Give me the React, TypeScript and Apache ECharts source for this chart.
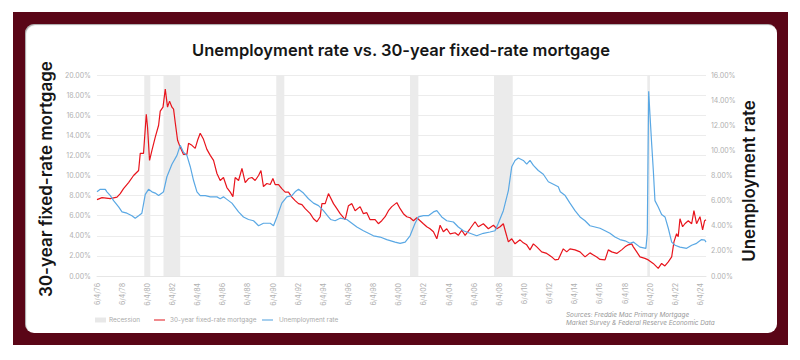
import React, { useEffect, useRef } from "react";
import * as echarts from "echarts";

// x values are decimal years; the axis starts at 6/4/76
const START_YEAR = 1976.42;
const END_YEAR = 2024.86;

const tickLabels = [
  "6/4/76", "6/4/78", "6/4/80", "6/4/82", "6/4/84", "6/4/86", "6/4/88", "6/4/90", "6/4/92",
  "6/4/94", "6/4/96", "6/4/98", "6/4/00", "6/4/02", "6/4/04", "6/4/06", "6/4/08", "6/4/10",
  "6/4/12", "6/4/14", "6/4/16", "6/4/18", "6/4/20", "6/4/22", "6/4/24",
];

const recessions: [number, number][] = [
  [1980.18, 1980.66],
  [1981.71, 1983.04],
  [1990.68, 1991.32],
  [2001.32, 2001.98],
  [2008.0, 2009.49],
  [2020.19, 2020.4],
];

// [year, %] — left axis
const mortgageRate: [number, number][] = [
  [1976.42, 7.6], [1976.82, 7.8], [1977.48, 7.7], [1978.01, 7.85], [1978.27, 8.2], [1978.53, 8.7],
  [1978.93, 9.3], [1979.33, 10.0], [1979.73, 10.5], [1979.86, 12.2], [1980.12, 12.2], [1980.34, 16.1],
  [1980.44, 14.8], [1980.6, 11.5], [1980.79, 12.5], [1981.05, 13.8], [1981.32, 15.0], [1981.45, 16.4],
  [1981.67, 16.8], [1981.85, 18.6], [1982.03, 16.8], [1982.19, 17.4], [1982.38, 16.8], [1982.51, 16.6],
  [1982.64, 15.3], [1982.83, 13.5], [1983.04, 12.8], [1983.3, 12.1], [1983.57, 12.1], [1983.7, 13.2],
  [1983.97, 13.0], [1984.23, 12.7], [1984.42, 13.5], [1984.63, 14.2], [1984.89, 13.6], [1985.16, 12.6],
  [1985.43, 12.0], [1985.69, 11.5], [1985.96, 10.2], [1986.22, 9.5], [1986.48, 9.8], [1986.75, 8.8],
  [1987.02, 8.35], [1987.23, 7.9], [1987.41, 9.8], [1987.68, 9.5], [1987.95, 10.7], [1988.21, 9.3],
  [1988.47, 9.7], [1988.74, 9.8], [1989.0, 9.5], [1989.27, 10.0], [1989.46, 10.5], [1989.66, 8.9],
  [1989.93, 9.2], [1990.2, 9.1], [1990.41, 9.7], [1990.59, 9.1], [1990.86, 9.1], [1991.12, 8.7],
  [1991.39, 8.35], [1991.65, 8.35], [1991.92, 7.85], [1992.18, 7.5], [1992.45, 7.2], [1992.72, 7.1],
  [1992.98, 6.7], [1993.38, 6.2], [1993.64, 5.7], [1993.91, 5.4], [1994.17, 5.9], [1994.31, 7.2],
  [1994.57, 7.2], [1994.83, 8.2], [1995.23, 7.2], [1995.5, 6.7], [1995.76, 6.2], [1996.16, 5.6],
  [1996.42, 7.0], [1996.69, 7.2], [1996.95, 6.5], [1997.35, 6.9], [1997.61, 6.2], [1997.88, 6.3],
  [1998.14, 5.6], [1998.54, 5.6], [1998.8, 5.2], [1999.07, 5.5], [1999.34, 5.9], [1999.6, 6.5],
  [1999.87, 6.9], [2000.27, 7.3], [2000.53, 6.7], [2000.79, 6.2], [2001.06, 5.9], [2001.32, 5.8],
  [2001.59, 5.5], [2001.86, 5.8], [2002.12, 5.5], [2002.38, 5.2], [2002.65, 4.9], [2002.91, 4.7],
  [2003.18, 4.4], [2003.45, 3.7], [2003.71, 5.05], [2003.97, 4.4], [2004.24, 4.7], [2004.5, 4.2],
  [2004.9, 4.3], [2005.16, 4.05], [2005.43, 4.55], [2005.7, 4.05], [2006.09, 4.7], [2006.49, 5.4],
  [2006.75, 4.9], [2007.15, 5.2], [2007.55, 4.7], [2007.95, 5.05], [2008.22, 4.7], [2008.48, 4.9],
  [2008.74, 5.2], [2008.88, 4.55], [2009.14, 3.4], [2009.41, 3.7], [2009.67, 3.2], [2010.07, 3.6],
  [2010.33, 3.3], [2010.6, 3.1], [2010.86, 2.6], [2011.13, 3.2], [2011.4, 2.9], [2011.79, 2.4],
  [2012.19, 2.25], [2012.59, 1.9], [2012.85, 1.6], [2013.11, 1.65], [2013.51, 2.7], [2013.78, 2.4],
  [2014.04, 2.7], [2014.44, 2.6], [2014.84, 2.4], [2015.24, 1.9], [2015.63, 2.3], [2015.9, 2.1],
  [2016.17, 1.9], [2016.43, 1.65], [2016.83, 1.6], [2017.09, 2.6], [2017.36, 2.4], [2017.76, 2.25],
  [2018.15, 2.6], [2018.42, 2.9], [2018.68, 3.1], [2018.95, 3.2], [2019.08, 2.9], [2019.35, 2.4],
  [2019.61, 1.9], [2020.0, 1.75], [2020.27, 1.6], [2020.66, 1.25], [2021.06, 0.76], [2021.33, 1.25],
  [2021.59, 1.0], [2021.86, 1.4], [2022.13, 1.9], [2022.31, 3.4], [2022.52, 4.2], [2022.65, 3.9],
  [2022.79, 5.7], [2023.0, 4.9], [2023.18, 5.2], [2023.45, 5.5], [2023.72, 5.2], [2023.9, 6.5],
  [2024.11, 5.2], [2024.38, 5.9], [2024.59, 4.6], [2024.75, 5.5], [2024.86, 5.6],
];

// [year, %] — right axis
const unemploymentRate: [number, number][] = [
  [1976.42, 6.7], [1976.68, 6.9], [1977.08, 6.9], [1977.21, 6.7], [1977.48, 6.4], [1977.74, 6.0],
  [1978.14, 5.5], [1978.41, 5.1], [1978.8, 5.0], [1979.2, 4.8], [1979.46, 4.6], [1979.73, 4.8],
  [1979.99, 5.0], [1980.26, 6.5], [1980.52, 6.9], [1980.79, 6.7], [1981.05, 6.6], [1981.32, 6.4],
  [1981.59, 6.6], [1981.71, 6.7], [1981.98, 7.9], [1982.38, 8.9], [1982.78, 9.6], [1983.04, 10.4],
  [1983.3, 9.85], [1983.57, 9.6], [1983.84, 8.7], [1984.1, 7.6], [1984.37, 6.7], [1984.63, 6.4],
  [1985.03, 6.4], [1985.43, 6.3], [1985.96, 6.3], [1986.22, 6.15], [1986.48, 6.3], [1986.75, 6.1],
  [1987.15, 5.8], [1987.68, 5.1], [1988.07, 4.7], [1988.47, 4.5], [1988.87, 4.4], [1989.27, 4.0],
  [1989.66, 4.2], [1990.2, 4.2], [1990.46, 4.0], [1990.73, 4.7], [1991.12, 5.8], [1991.52, 6.3],
  [1991.92, 6.4], [1992.18, 6.7], [1992.45, 6.9], [1992.84, 6.6], [1993.24, 6.15], [1993.64, 5.8],
  [1994.04, 5.6], [1994.43, 5.2], [1994.83, 4.7], [1995.0, 4.5], [1995.36, 4.4], [1995.76, 4.6],
  [1996.29, 4.5], [1996.69, 4.2], [1997.09, 3.9], [1997.61, 3.6], [1998.41, 3.2], [1998.94, 3.1],
  [1999.47, 2.9], [2000.13, 2.7], [2000.53, 2.6], [2000.93, 2.7], [2001.32, 3.2], [2001.72, 4.2],
  [2001.98, 4.7], [2002.38, 4.8], [2002.78, 4.8], [2003.18, 5.1], [2003.45, 5.2], [2003.84, 4.7],
  [2004.24, 4.4], [2004.77, 4.3], [2005.16, 3.9], [2005.56, 3.6], [2006.09, 3.4], [2006.62, 3.2],
  [2007.15, 3.4], [2007.68, 3.5], [2008.08, 3.6], [2008.34, 4.2], [2008.74, 5.2], [2009.14, 6.8],
  [2009.41, 8.7], [2009.67, 9.2], [2009.93, 9.4], [2010.33, 9.2], [2010.6, 8.9], [2010.86, 9.2],
  [2011.13, 8.8], [2011.52, 8.4], [2011.92, 8.1], [2012.32, 7.5], [2012.72, 7.3], [2013.11, 7.1],
  [2013.27, 6.7], [2013.66, 6.4], [2014.04, 5.8], [2014.44, 5.2], [2014.84, 4.7], [2015.24, 4.4],
  [2015.63, 4.0], [2016.03, 3.9], [2016.43, 3.8], [2016.83, 3.6], [2017.22, 3.4], [2017.62, 3.1],
  [2018.02, 2.9], [2018.42, 2.8], [2018.81, 2.6], [2019.08, 2.7], [2019.61, 2.3], [2020.08, 2.2],
  [2020.19, 3.4], [2020.3, 14.7], [2020.4, 12.9], [2020.54, 10.5], [2020.67, 8.4], [2020.8, 6.0],
  [2021.06, 5.5], [2021.33, 4.9], [2021.6, 4.7], [2021.86, 3.8], [2022.13, 2.7], [2022.4, 2.45],
  [2022.79, 2.3], [2023.32, 2.2], [2023.72, 2.45], [2024.11, 2.6], [2024.51, 2.9], [2024.77, 2.85],
  [2024.86, 2.7],
];

const RED = "#e8141c";
const BLUE = "#5aa8e4";
const FONT = "Inter, 'Open Sans', sans-serif";

function toX(pts: [number, number][]) {
  return pts.map(([yr, v]) => [yr - START_YEAR, v]);
}

export default function App() {
  const ref = useRef<HTMLDivElement>(null);

  useEffect(() => {
    if (!ref.current) return;
    const chart = echarts.init(ref.current, undefined, { renderer: "svg" });
    const small = { fontSize: 6.4, fontFamily: FONT, fill: "#aaaaaa", verticalAlign: "middle" };
    chart.setOption({
      animation: false,
      backgroundColor: "transparent",
      grid: { left: 97, right: 94, top: 75, bottom: 84 },
      xAxis: {
        type: "value",
        min: 0,
        max: END_YEAR - START_YEAR,
        interval: 2,
        axisLine: { show: true, lineStyle: { color: "#e6e6e6" } },
        axisTick: { show: false },
        splitLine: { show: false },
        axisLabel: {
          rotate: 90,
          margin: 7,
          fontSize: 7,
          color: "#b0b0b0",
          fontFamily: FONT,
          formatter: (v: number) => {
            const i = Math.round(v / 2);
            if (Math.abs(v - i * 2) > 0.01) return "";
            return tickLabels[i] ?? "";
          },
        },
      },
      yAxis: [
        {
          type: "value",
          min: 0,
          max: 20,
          interval: 2,
          axisLine: { show: false },
          axisTick: { show: false },
          splitLine: { lineStyle: { color: "#ececec", width: 1 } },
          axisLabel: {
            margin: 6,
            fontSize: 7,
            color: "#b0b0b0",
            fontFamily: FONT,
            formatter: (v: number) => v.toFixed(2) + "%",
          },
        },
        {
          type: "value",
          min: 0,
          max: 16,
          interval: 2,
          axisLine: { show: false },
          axisTick: { show: false },
          splitLine: { show: false },
          axisLabel: {
            margin: 5,
            fontSize: 7,
            color: "#b0b0b0",
            fontFamily: FONT,
            formatter: (v: number) => v.toFixed(2) + "%",
          },
        },
      ],
      series: [
        {
          name: "Recession",
          type: "line",
          data: [],
          silent: true,
          markArea: {
            silent: true,
            itemStyle: { color: "#ebebeb" },
            data: recessions.map(([a, b]) => [
              { xAxis: a - START_YEAR },
              { xAxis: b - START_YEAR },
            ]),
          },
        },
        {
          name: "30-year fixed-rate mortgage",
          type: "line",
          yAxisIndex: 0,
          data: toX(mortgageRate),
          showSymbol: false,
          lineStyle: { color: RED, width: 1.2 },
          itemStyle: { color: RED },
        },
        {
          name: "Unemployment rate",
          type: "line",
          yAxisIndex: 1,
          data: toX(unemploymentRate),
          showSymbol: false,
          lineStyle: { color: BLUE, width: 1.2 },
          itemStyle: { color: BLUE },
        },
      ],
      graphic: [
        {
          type: "text",
          x: 401,
          y: 50,
          style: {
            text: "Unemployment rate vs. 30-year fixed-rate mortgage",
            fontSize: 16.5,
            fontWeight: 600,
            fontFamily: FONT,
            fill: "#161616",
            align: "center",
            verticalAlign: "middle",
          },
        },
        {
          type: "text",
          x: 46,
          y: 179,
          rotation: Math.PI / 2,
          style: {
            text: "30-year fixed-rate mortgage",
            fontSize: 17,
            fontWeight: 600,
            fontFamily: FONT,
            fill: "#161616",
            align: "center",
            verticalAlign: "middle",
          },
        },
        {
          type: "text",
          x: 749,
          y: 181,
          rotation: Math.PI / 2,
          style: {
            text: "Unemployment rate",
            fontSize: 17,
            fontWeight: 600,
            fontFamily: FONT,
            fill: "#161616",
            align: "center",
            verticalAlign: "middle",
          },
        },
        { type: "rect", shape: { x: 95, y: 317.5, width: 11, height: 5 }, style: { fill: "#e8e8e8" } },
        { type: "text", x: 109, y: 320, style: { ...small, text: "Recession" } },
        { type: "line", shape: { x1: 154, y1: 320, x2: 165, y2: 320 }, style: { stroke: "#f08a8d", lineWidth: 2 } },
        { type: "text", x: 170, y: 320, style: { ...small, text: "30-year fixed-rate mortgage" } },
        { type: "line", shape: { x1: 262, y1: 320, x2: 273, y2: 320 }, style: { stroke: "#a6cfee", lineWidth: 2 } },
        { type: "text", x: 279, y: 320, style: { ...small, text: "Unemployment rate" } },
        {
          type: "text",
          x: 566,
          y: 314.5,
          style: { ...small, fill: "#999999", fontStyle: "italic", text: "Sources: Freddie Mac Primary Mortgage" },
        },
        {
          type: "text",
          x: 566,
          y: 323,
          style: { ...small, fill: "#999999", fontStyle: "italic", text: "Market Survey & Federal Reserve Economic Data" },
        },
      ],
    });
    return () => chart.dispose();
  }, []);

  return (
    <div style={{ position: "absolute", left: 0, top: 0, width: 800, height: 360, background: "#fff", overflow: "hidden" }}>
      <div style={{ position: "absolute", left: 13, top: 12, width: 775, height: 333, background: "#5a0617" }} />
      <div
        style={{
          position: "absolute",
          left: 25,
          top: 24,
          width: 752,
          height: 309,
          background: "#fff",
          borderRadius: 9,
          boxShadow: "inset 1px 1px 1px rgba(0,0,0,0.35)",
        }}
      />
      <div ref={ref} style={{ position: "absolute", left: 0, top: 0, width: 800, height: 360 }} />
    </div>
  );
}
